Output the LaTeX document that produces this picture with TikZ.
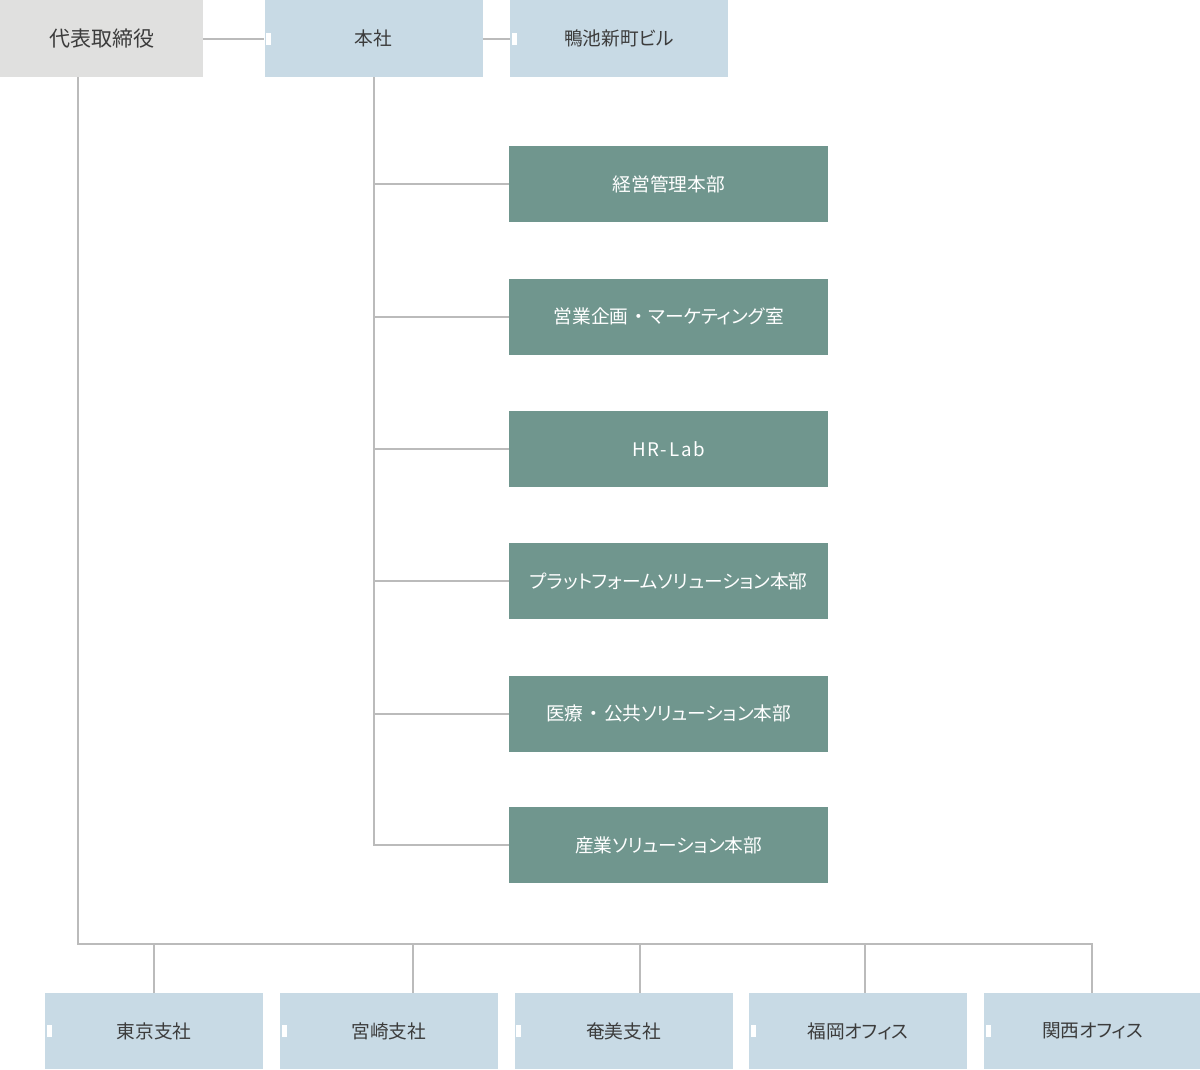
\documentclass[tikz,border=0pt]{standalone}
\usepackage{fontspec}
\setmainfont{Noto Sans CJK JP}[RawFeature=+palt]
\usetikzlibrary{positioning}
\definecolor{headgray}{HTML}{E0E0DF}
\definecolor{officeblue}{HTML}{C8DAE5}
\definecolor{deptgreen}{HTML}{70968E}
\definecolor{linegray}{HTML}{BBBBBB}
\definecolor{textgray}{HTML}{3C3C3C}
\newcommand{\nakadot}{\hbox to 1.1em{\hss・\hss}}
\tikzstyle{head} = [rectangle, inner sep=0pt,
fill=headgray,
minimum width=203pt,
minimum height=77pt,
text=textgray,
font=\fontsize{21}{25}\selectfont]
\tikzstyle{office} = [rectangle, inner sep=0pt,
fill=officeblue,
minimum width=218pt,
minimum height=77pt,
text=textgray,
font=\fontsize{18.7}{22}\selectfont]
\tikzstyle{dept} = [rectangle, inner sep=0pt,
fill=deptgreen,
minimum width=319pt,
minimum height=76pt,
text=white,
font=\fontsize{18.7}{22}\selectfont]
\tikzstyle{link} = [draw=linegray, line width=2pt]

\begin{document}
\begin{tikzpicture}[x=1pt, y=-1pt, node distance=16.25pt]
        \useasboundingbox (0,0) rectangle (1200,1070);

        \node (ceo) [head, anchor=north west] at (0,0) {代表取締役};
        \node (honsha) [office, right=61pt of ceo] {本社};
        \node (kamoike) [office, right=27pt of honsha] {鴨池新町ビル};

        \node (keiei) [dept, anchor=north west] at (509,146) {経営管理本部};
        \node (eigyo) [dept, below=56pt of keiei] {営業企画\nakadot マーケティング室};
        \node (hrlab) [dept, below=56pt of eigyo,
            font=\fontsize{18.7}{22}\selectfont\addfontfeature{LetterSpace=10}] {HR-Lab};
        \node (platform) [dept, below=56pt of hrlab] {プラットフォームソリューション本部};
        \node (iryo) [dept, below=56pt of platform] {医療\nakadot 公共ソリューション本部};
        \node (sangyo) [dept, below=55pt of iryo] {産業ソリューション本部};

        \node (tokyo) [office, minimum height=76pt, anchor=north west] at (45,993) {東京支社};
        \node (miyazaki) [office, minimum height=76pt, right=of tokyo] {宮崎支社};
        \node (amami) [office, minimum height=76pt, right=of miyazaki] {奄美支社};
        \node (fukuoka) [office, minimum height=76pt, right=of amami] {福岡オフィス};
        \node (kansai) [office, minimum height=76pt, right=of fukuoka] {関西オフィス};

        \coordinate (bus) at (78,944);

        \draw [link] (ceo) -- (honsha);
        \draw [link] (honsha) -- (kamoike);
        \draw [link] (honsha.south) |- (sangyo.west);
        \foreach \n in {keiei, eigyo, hrlab, platform, iryo}
            \draw [link] (honsha.south |- \n.west) -- (\n.west);

        \draw [link] (ceo.south -| bus) -- (bus) -| ([xshift=-1pt]kansai.north);
        \foreach \n/\dx in {tokyo/0, miyazaki/24, amami/16, fukuoka/7}
            \draw [link] ([xshift=\dx pt]\n.north |- bus) -- ([xshift=\dx pt]\n.north);

        % small white tabs on the left edges
        \foreach \n in {honsha, kamoike, tokyo, miyazaki, amami, fukuoka, kansai}
            \fill [white] ([xshift=2pt, yshift=-6pt]\n.west) rectangle ++(5pt,12pt);

    \end{tikzpicture}
\end{document}
